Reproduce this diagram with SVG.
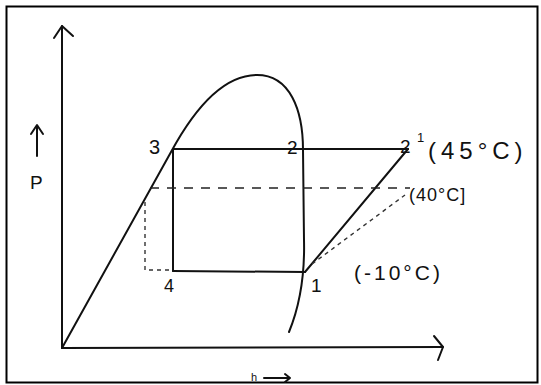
<svg xmlns="http://www.w3.org/2000/svg" width="541" height="385" viewBox="0 0 541 385">
<style>
.ln{fill:none;stroke:#111;stroke-width:2;stroke-linecap:round;stroke-linejoin:round}
.ds{fill:none;stroke:#222;stroke-width:1.6;stroke-dasharray:9 8}
.dt{fill:none;stroke:#333;stroke-width:1.4;stroke-dasharray:4 4}
.t{font-family:"Liberation Sans",Arial,sans-serif;fill:#111}
</style>
<rect x="0" y="0" width="541" height="385" fill="#fff"/>
<rect x="6.5" y="6.5" width="531" height="376" fill="none" stroke="#000" stroke-width="2"/>
<g id="axes">
<path class="ln" d="M62,348 L62,26"/>
<path class="ln" d="M54,38 L62,26 L73,36"/>
<path class="ln" d="M62,348 L443,347"/>
<path class="ln" d="M434,336 L443,347 L438,360"/>
</g>
<g id="dome"><path class="ln" d="M62,348 L171,152 C196,106 225,75 257,75 C290,75 303,110 303,150 L304,240 C305,280 298,310 289,332"/></g>
<g id="connectors">
<path class="ln" d="M173,149 L408,149"/>
<path class="ln" d="M173,149 L173,271"/>
<path class="ln" d="M173,271 L305,272"/>
<path class="ln" d="M305,272 L408,149"/>
<path class="ds" d="M150,188 L410,188"/>
<path class="dt" d="M145,202 L145,270 L172,270"/>
<path class="dt" d="M312,264 L405,195"/>
</g>
<g id="labels">
<text class="t" x="149" y="154" font-size="20">3</text>
<text class="t" x="287" y="154" font-size="19">2</text>
<text class="t" x="400" y="153" font-size="19">2</text>
<text class="t" x="417" y="142" font-size="13">1</text>
<text class="t" x="428" y="159" font-size="24" letter-spacing="5">(45°C)</text>
<text class="t" x="409" y="201" font-size="18" letter-spacing="1">(40°C]</text>
<text class="t" x="164" y="292" font-size="18">4</text>
<text class="t" x="311" y="292" font-size="19">1</text>
<text class="t" x="354" y="280" font-size="21" letter-spacing="3">(-10°C)</text>
<text class="t" x="30" y="189" font-size="19">P</text>
<path class="ln" d="M37,156 L37,126 M31,134 L37,125 L43,134"/>
<text class="t" x="251" y="381" font-size="11">h</text>
<path class="ln" d="M264,378 L290,378 M285,374 L290,378 L285,382"/>
</g>
</svg>
